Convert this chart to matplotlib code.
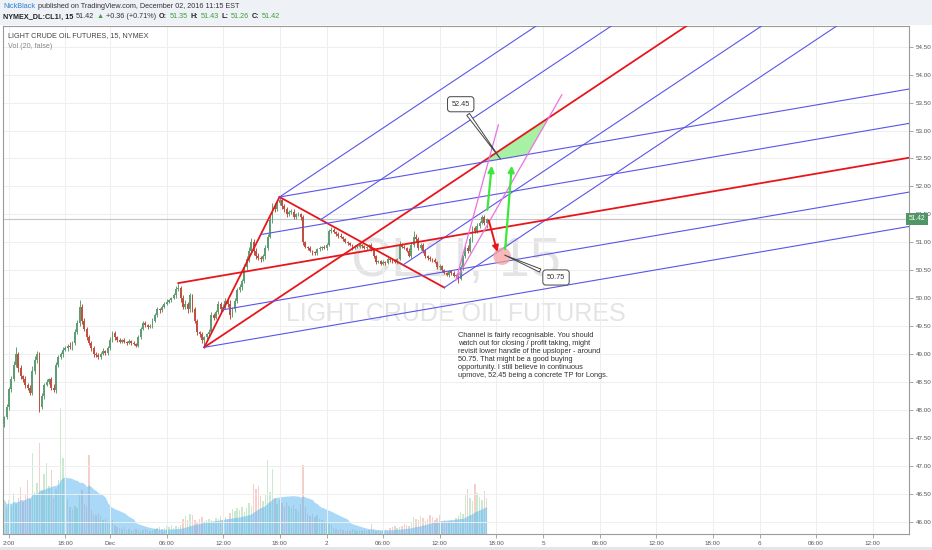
import numpy as np
import matplotlib.pyplot as plt
from matplotlib.patches import Ellipse, Polygon, Rectangle

plt.rcParams['font.family'] = ['Liberation Sans', 'DejaVu Sans']

W, H = 932, 550

# 15 min closes, CL1! (bar index 0..205)
closes = [
    47.87, 48.05, 48.37, 48.55, 48.80, 49.00, 48.75, 48.60, 48.55, 48.45,
    48.40, 48.30, 48.70, 48.90, 49.00, 48.05, 48.25, 48.45, 48.50, 48.55,
    48.40, 48.35, 48.80, 48.95, 49.00, 49.08, 49.10, 49.15, 49.12, 49.20,
    49.40, 49.55, 49.85, 49.60, 49.45, 49.30, 49.20, 49.10, 49.00, 48.98,
    48.95, 49.00, 49.05, 49.02, 49.10, 49.25, 49.38, 49.30, 49.25, 49.22,
    49.25, 49.22, 49.20, 49.24, 49.20, 49.18, 49.15, 49.30, 49.45, 49.56,
    49.52, 49.48, 49.50, 49.60, 49.70, 49.80, 49.78, 49.85, 49.90, 49.94,
    49.96, 50.00, 50.05, 50.16, 50.18, 50.00, 49.85, 49.90, 49.80, 50.05,
    49.80, 49.60, 49.40, 49.35, 49.25, 49.30, 49.35, 49.40, 49.70, 49.65,
    49.75, 49.90, 49.80, 49.85, 49.95, 49.90, 49.70, 49.80, 49.95, 50.15,
    50.20, 50.30, 50.55, 50.70, 50.85, 51.00, 50.85, 50.75, 50.72, 50.70,
    50.75, 50.90, 51.10, 51.40, 51.65, 51.60, 51.70, 51.75, 51.65, 51.60,
    51.50, 51.55, 51.55, 51.45, 51.50, 51.50, 51.45, 51.00, 50.92, 50.90,
    50.85, 50.82, 50.80, 50.88, 50.90, 50.92, 50.90, 50.95, 51.20, 51.22,
    51.18, 51.15, 51.12, 51.10, 51.05, 51.00, 50.98, 50.95, 50.90, 50.92,
    50.92, 50.95, 50.93, 50.90, 50.92, 50.95, 50.88, 50.75, 50.65, 50.66,
    50.62, 50.65, 50.63, 50.70, 50.68, 50.67, 50.65, 50.70, 50.95, 50.92,
    50.90, 50.85, 50.75, 50.95, 51.10, 51.05, 50.90, 50.95, 50.85, 50.75,
    50.72, 50.70, 50.68, 50.65, 50.55, 50.58, 50.50, 50.45, 50.42, 50.48,
    50.45, 50.40, 50.42, 50.35, 50.55, 50.75, 50.90, 50.85, 51.05, 51.25,
    51.20, 51.30, 51.35, 51.45, 51.35, 51.42,
]
first_open = 47.75

# wicks above / below the body, in cents
wick_up = [
    3, 5, 4, 6, 8, 12, 4, 5, 3, 6,
    4, 5, 8, 6, 5, 3, 6, 4, 5, 3,
    4, 6, 5, 4, 3, 5, 4, 3, 6, 4,
    5, 6, 12, 4, 5, 3, 4, 3, 5, 4,
    3, 4, 5, 3, 4, 6, 4, 3, 2, 3,
    2, 3, 2, 3, 2, 3, 2, 4, 3, 4,
    3, 2, 3, 4, 3, 4, 3, 2, 3, 4,
    3, 2, 4, 6, 9, 4, 5, 6, 4, 5,
    3, 4, 3, 2, 4, 3, 2, 5, 6, 3,
    4, 5, 3, 4, 5, 3, 6, 4, 5, 4,
    5, 4, 6, 5, 7, 8, 5, 4, 6, 3,
    4, 6, 5, 7, 5, 6, 5, 6, 4, 3,
    4, 3, 5, 4, 3, 4, 3, 4, 3, 2,
    3, 2, 3, 2, 3, 2, 3, 4, 3, 5,
    3, 2, 3, 4, 2, 3, 2, 3, 2, 3,
    2, 3, 2, 3, 2, 2, 3, 2, 3, 2,
    2, 3, 2, 3, 2, 2, 3, 2, 8, 4,
    3, 2, 4, 6, 10, 4, 5, 3, 4, 3,
    2, 3, 2, 3, 2, 3, 2, 3, 2, 3,
    2, 3, 2, 3, 4, 3, 5, 6, 4, 5,
    4, 5, 3, 4, 3, 1,
]
wick_dn = [
    5, 4, 6, 5, 4, 3, 8, 4, 5, 6,
    5, 4, 3, 5, 6, 8, 4, 5, 3, 4,
    5, 3, 4, 3, 4, 6, 3, 4, 3, 4,
    3, 4, 5, 6, 4, 5, 3, 4, 6, 3,
    4, 3, 2, 4, 3, 2, 3, 4, 3, 2,
    3, 2, 3, 2, 3, 2, 3, 2, 3, 2,
    3, 4, 2, 3, 2, 3, 4, 3, 2, 3,
    2, 3, 2, 4, 3, 6, 5, 4, 6, 5,
    4, 5, 6, 4, 5, 13, 4, 5, 3, 4,
    3, 4, 5, 3, 4, 5, 8, 3, 4, 3,
    4, 5, 3, 4, 5, 6, 7, 5, 4, 6,
    3, 5, 4, 3, 6, 5, 4, 3, 6, 5,
    4, 3, 4, 3, 4, 3, 5, 4, 3, 4,
    3, 4, 3, 2, 3, 4, 2, 3, 2, 3,
    2, 3, 4, 2, 3, 2, 3, 2, 3, 2,
    3, 2, 3, 2, 3, 2, 3, 4, 3, 2,
    3, 2, 3, 2, 3, 4, 2, 3, 2, 3,
    2, 3, 2, 4, 3, 5, 4, 3, 4, 3,
    3, 4, 3, 2, 3, 4, 3, 2, 3, 4,
    3, 2, 4, 7, 3, 4, 3, 4, 3, 4,
    3, 4, 5, 3, 4, 9,
]

volume = [
    3400, 2600, 3400, 2800, 4100, 3000, 3600, 4700, 3200, 3900,
    5400, 3500, 8100, 4200, 5100, 9100, 4400, 6000, 7100, 4800,
    6400, 3600, 4500, 5400, 12600, 7600, 4300, 3500, 2700, 2500,
    2800, 2600, 3900, 4400, 3000, 2800, 7900, 2400, 2000, 1900,
    2100, 1800, 1400, 1500, 1300, 1200, 1400, 900, 700, 600,
    500, 700, 400, 500, 400, 300, 500, 400, 300, 400,
    500, 400, 300, 400, 500, 600, 700, 500, 600, 800,
    700, 900, 600, 800, 700, 900, 1500, 1800, 1400, 2000,
    1900, 1400, 1200, 1500, 1700, 1300, 1400, 1500, 1400, 1300,
    1600, 1500, 1800, 1400, 1700, 1500, 2100, 2500, 2300, 2600,
    2400, 2700, 2200, 2600, 3100, 2800, 5000, 4500, 4800, 3800,
    3300, 4000, 7400, 4200, 6500, 3600, 3000, 3400, 3100, 2700,
    3200, 2800, 2600, 2900, 2500, 2300, 3000, 6900, 2700, 2000,
    1800, 2000, 1700, 1900, 1500, 1400, 1300, 1100, 1000, 900,
    600, 500, 400, 500, 400, 300, 400, 300, 500, 400,
    300, 400, 300, 400, 300, 400, 1000, 500, 300, 400,
    300, 400, 500, 400, 600, 700, 800, 600, 700, 800,
    1000, 900, 800, 1100, 1700, 1500, 1400, 1800, 1600, 1300,
    1500, 1900, 1700, 1400, 1600, 1900, 1300, 1400, 1200, 1300,
    1400, 1200, 1600, 1800, 2200, 2000, 3900, 4500, 3600, 3300,
    5000, 4100, 3700, 3400, 4300, 3600,
]

tick_pos = [2, 26, 45, 69, 93, 117, 137, 161, 185, 209, 229, 253, 277, 301, 321, 345, 369]
tick_lab = ['2:00', '18:00', 'Dec', '06:00', '12:00', '18:00', '2', '06:00', '12:00',
            '18:00', '5', '06:00', '12:00', '18:00', '6', '06:00', '12:00']
price_ticks = np.arange(46.0, 54.51, 0.5)
last_price = 51.42

# drawings (bar index, price)
fork1 = [(85, 49.12), (117, 51.81), (187, 50.19)]
fork2 = [(74, 50.27), (117, 51.81), (85, 49.12)]
fan_origin = (192, 50.33)
fan_ends = [(210, 53.10), (237, 53.64)]
up_arrows = [((205.2, 51.53), (207.3, 52.42)), ((212.8, 50.83), (215.8, 52.42))]
down_arrow = ((205.6, 51.44), (209.9, 50.78))
target_hi, target_lo = 52.45, 50.75
target_bar = 211.6

note = ("Channel is fairly recognisable. You should\n"
        "watch out for closing / profit taking, might\n"
        "revisit lower handle of the upsloper - around\n"
        "50.75. That might be a good buying\n"
        "opportunity. I still believe in continuous\n"
        "upmove, 52.45 being a concrete TP for Longs.")

RED = '#e8161b'
BLUE = '#5a55ea'
PINK = '#ea72e0'
UP = '#5f9e74'
DN = '#c0503f'

fig = plt.figure(figsize=(W / 100, H / 100), dpi=100, facecolor='white')
fig.patches.append(Rectangle((0, 1 - 25 / H), 1, 25 / H, transform=fig.transFigure,
                             fc='#eef1f6', ec='none', zorder=0))
fig.patches.append(Rectangle((0, 0), 1, 3 / H, transform=fig.transFigure,
                             fc='#e3e6eb', ec='none', zorder=0))

ax_vol = fig.add_axes([3 / W, 16 / H, 906 / W, 508 / H])
ax = fig.add_axes([3 / W, 16 / H, 906 / W, 508 / H], sharex=ax_vol)
ax.patch.set_visible(False)

n = len(closes)
idx = np.arange(n)
opens = [first_open] + closes[:-1]
o = np.array(opens)
c = np.array(closes)
hi = np.maximum(o, c) + np.array(wick_up) / 100
lo = np.minimum(o, c) - np.array(wick_dn) / 100
up = c >= o
cols = np.where(up, UP, DN)

# volume + MA(20) area
vol = np.array(volume)
vol_ma = np.convolve(vol, np.ones(20), 'full')[:n] / np.minimum(idx + 1, 20)
ax_vol.bar(idx, vol, width=0.6, color=np.where(up, '#a9dbb0', '#f2b0a8'), alpha=0.6, zorder=1)
ax_vol.fill_between(idx, 0, vol_ma, color='#56b4f0', alpha=0.5, lw=0, zorder=2)
ax_vol.set_ylim(0, 50800)
ax_vol.set_yticks([])
ax_vol.tick_params(axis='x', which='both', length=0, labelbottom=False)
for s in ax_vol.spines.values():
    s.set_visible(False)

# watermark
ax.text(0.5, 0.535, 'CL1!, 15', transform=ax.transAxes, ha='center', va='center',
        fontsize=40, color='#e4e4e4', zorder=0.5)
ax.text(0.5, 0.433, 'LIGHT CRUDE OIL FUTURES', transform=ax.transAxes, ha='center',
        va='center', fontsize=18, color='#e4e4e4', zorder=0.5)

# candles
ax.vlines(idx, lo, hi, colors=cols, lw=0.7, zorder=3)
ax.bar(idx, np.maximum(np.abs(c - o), 0.012), bottom=np.minimum(o, c), width=0.8,
       color=cols, zorder=4)

ax.axhline(last_price, color='#c4c4c4', lw=0.8, zorder=2)


def fork(points, far=420):
    a, b, cc = [np.array(p, float) for p in points]
    m = (b + cc) / 2
    d = m - a
    d = d / d[0]
    ax.plot([b[0], cc[0]], [b[1], cc[1]], color=RED, lw=1.3, zorder=5)
    ax.plot([a[0], far], [a[1], a[1] + d[1] * (far - a[0])], color=RED, lw=1.3, zorder=5)
    lines = {}
    for t in (-1, -0.5, 0.5, 1):
        p = m + t * (cc - m)
        ax.plot([p[0], far], [p[1], p[1] + d[1] * (far - p[0])], color=BLUE, lw=0.8, zorder=5)
        lines[t] = (p, d[1])
    lines[0] = (a, d[1])
    return lines


f1 = fork(fork1)
f2 = fork(fork2)

fo = np.array(fan_origin)
fan_lines = []
for e in fan_ends:
    ax.plot([fo[0], e[0]], [fo[1], e[1]], color=PINK, lw=0.9, zorder=5)
    fan_lines.append((fo, (e[1] - fo[1]) / (e[0] - fo[0])))


def cross(l1, l2):
    (p1, s1), (p2, s2) = l1, l2
    x = (p2[1] - s2 * p2[0] - p1[1] + s1 * p1[0]) / (s1 - s2)
    return (x, p1[1] + s1 * (x - p1[0]))


zone = [cross(f1[0], f2[-1]), cross(f1[0], fan_lines[1]), cross(fan_lines[1], f2[-1])]
ax.add_patch(Polygon(zone, closed=True, fc='#9ff09a', ec='none', alpha=0.9, zorder=4.5))

for s, e in up_arrows:
    ax.annotate('', xy=e, xytext=s, arrowprops=dict(arrowstyle='-|>', color='#3ee83a',
                lw=1.6, mutation_scale=9), zorder=6)
ax.add_patch(Ellipse((target_bar, target_lo), 7.5, 0.31, fc='#f4a0a0', ec='none',
                     alpha=0.75, zorder=5.5))
ax.annotate('', xy=down_arrow[1], xytext=down_arrow[0],
            arrowprops=dict(arrowstyle='-|>', color=RED, lw=1.4, mutation_scale=9), zorder=6)

callout = dict(arrowstyle='wedge,tail_width=0.45', fc='white', ec='#444', lw=0.7)
box = dict(boxstyle='round,pad=0.55,rounding_size=0.4', fc='white', ec='#444', lw=0.7)
ax.annotate(f'{target_hi:.2f}', xy=(target_bar, target_hi), xytext=(194, 53.47),
            ha='center', va='center', fontsize=5.3, color='#333', bbox=box,
            arrowprops=callout, zorder=7)
ax.annotate(f'{target_lo:.2f}', xy=(target_bar, target_lo + 0.04), xytext=(234.5, 50.37),
            ha='center', va='center', fontsize=5.3, color='#333', bbox=box,
            arrowprops=callout, zorder=7)

ax.text(192.8, 49.39, note, ha='left', va='top', fontsize=5.3, color='#333',
        linespacing=1.2, zorder=7)

# top-left pane labels
ax.text(5 / 906, 1 - 10 / 508, 'LIGHT CRUDE OIL FUTURES, 15, NYMEX', transform=ax.transAxes,
        ha='left', va='center', fontsize=5.2, color='#444')
ax.text(5 / 906, 1 - 20 / 508, 'Vol (20, false)', transform=ax.transAxes,
        ha='left', va='center', fontsize=5.2, color='#888')

ax.set_xlim(-0.51, 384.5)
ax.set_ylim(45.78, 54.87)
ax.set_xticks(tick_pos, tick_lab)
ax.set_yticks(price_ticks, [f'{p:.2f}' for p in price_ticks])
ax.yaxis.tick_right()
ax.tick_params(axis='both', labelsize=4.5, labelcolor='#555', color='#999', length=3, width=0.6,
               pad=2)
ax.grid(True, color='#eeeeee', lw=0.7)
ax.set_axisbelow(True)
for s in ax.spines.values():
    s.set_color('#9a9a9a')
    s.set_linewidth(0.8)

ax.text(1.0, last_price, f'{last_price:.2f}', transform=ax.get_yaxis_transform(),
        ha='left', va='center', fontsize=4.8, color='white', zorder=10, clip_on=False,
        bbox=dict(boxstyle='square,pad=0.4', fc='#4f9566', ec='none'))

# header, pieces placed one after the other
renderer = fig.canvas.get_renderer()


def header(x, y, parts, size=5.2):
    for s, col, wt in parts:
        t = fig.text(x / W, 1 - y / H, s, va='center', ha='left', fontsize=size,
                     color=col, fontweight=wt)
        x = t.get_window_extent(renderer).x1 + 2.5


green = '#3d9f3d'
header(3, 7, [('NickBlack', '#2b7fd6', 'normal'),
              ('published on TradingView.com, December 02, 2016 11:15 EST', '#333', 'normal')])
header(3, 17, [('NYMEX_DL:CL1!, 15', '#222', 'bold'), ('51.42', '#333', 'normal'),
               ('\u25b2', green, 'normal'), ('+0.36 (+0.71%)', '#333', 'normal'),
               ('O:', '#222', 'bold'), ('51.35', green, 'normal'),
               ('H:', '#222', 'bold'), ('51.43', green, 'normal'),
               ('L:', '#222', 'bold'), ('51.26', green, 'normal'),
               ('C:', '#222', 'bold'), ('51.42', green, 'normal')])

fig.savefig('out.png', dpi=100, facecolor=fig.get_facecolor())
